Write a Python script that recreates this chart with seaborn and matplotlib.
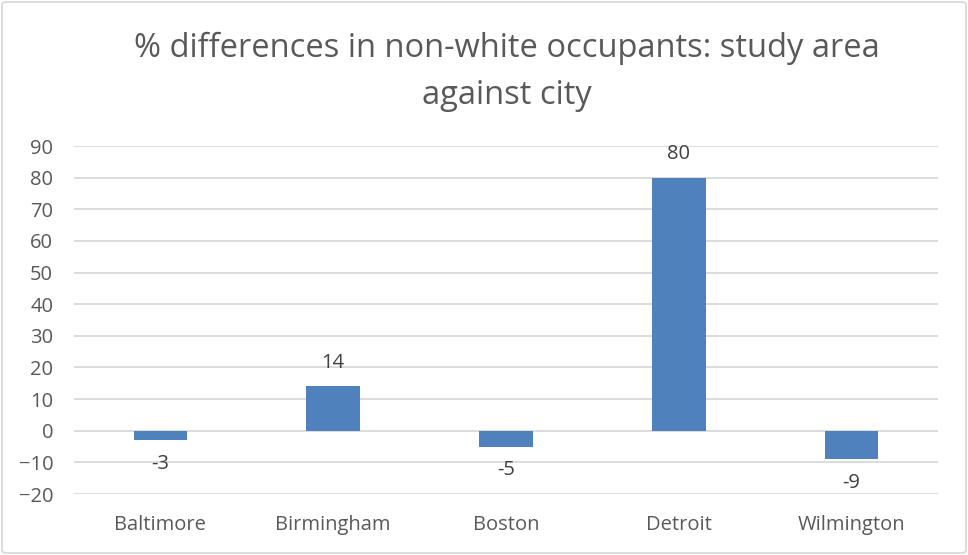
import matplotlib
matplotlib.use("Agg")
import matplotlib.pyplot as plt
import seaborn as sns
import pandas as pd
from matplotlib.patches import FancyBboxPatch

cities = ["Baltimore", "Birmingham", "Boston", "Detroit", "Wilmington"]
values = [-3, 14, -5, 80, -9]
yticks = [-20, -10, 0, 10, 20, 30, 40, 50, 60, 70, 80, 90]
title = "% differences in non-white occupants: study area\nagainst city"

sns.set_theme(style="white")
plt.rcParams['font.family'] = ['Open Sans', 'DejaVu Sans']

df = pd.DataFrame({"city": cities, "value": values})

fig = plt.figure(figsize=(9.68, 5.55), dpi=100)
ax = fig.add_axes([74/968, 1-494/555, 864/968, 348/555])

sns.barplot(data=df, x="city", y="value", color="#4F81BD", saturation=1,
            width=0.31, ax=ax, zorder=3, edgecolor="none")

ax.set_ylim(-20, 90)
ax.set_yticks(yticks)
ax.set_xlim(-0.5, len(cities) - 0.5)
ax.yaxis.grid(True, color="#D9D9D9", linewidth=1.3, zorder=0)
ax.xaxis.grid(False)
for s in ax.spines.values():
    s.set_visible(False)
ax.set_xlabel("")
ax.set_ylabel("")
ax.tick_params(axis="y", length=0, pad=15, labelsize=14.5, labelcolor="#595959")
ax.tick_params(axis="x", length=0, pad=15, labelsize=14.5, labelcolor="#595959")
for lbl in ax.get_yticklabels():
    lbl.set_horizontalalignment("right")

for i, v in enumerate(values):
    if v >= 0:
        ax.annotate(str(v), (i, v), xytext=(0, 10), textcoords="offset points",
                    ha="center", va="bottom", fontsize=14.5, color="#404040")
    else:
        ax.annotate(str(v), (i, v), xytext=(0, -10), textcoords="offset points",
                    ha="center", va="top", fontsize=14.5, color="#404040")

fig.text(507/968, 1 - 72/555, title, ha="center", va="center", fontsize=23.5,
         color="#595959", linespacing=1.55, multialignment="center")

border = FancyBboxPatch((2/968, 2/555), 964/968, 551/555,
                        boxstyle="round,pad=0,rounding_size=0.005",
                        transform=fig.transFigure, fill=False,
                        edgecolor="#D9D9D9", linewidth=1.3)
fig.patches.append(border)

fig.savefig("out.png", dpi=100)
